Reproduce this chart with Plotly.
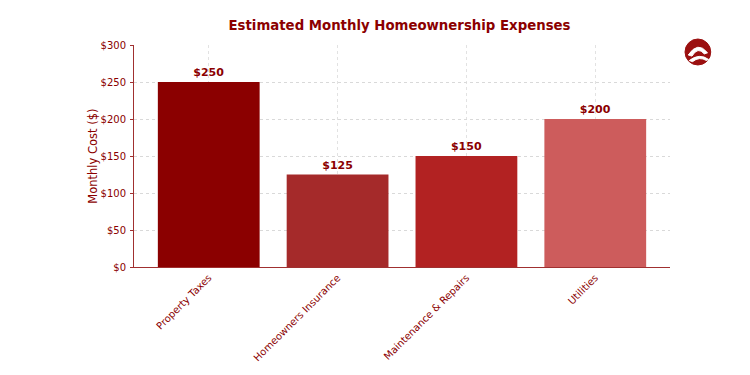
import plotly.graph_objects as go

categories = ["Property Taxes", "Homeowners Insurance", "Maintenance & Repairs", "Utilities"]
costs = [250, 125, 150, 200]
bar_colors = ["#8B0000", "#A52A2A", "#B22222", "#CD5C5C"]
label_texts = ["$250", "$125", "$150", "$200"]
y_ticks = [0, 50, 100, 150, 200, 250, 300]
y_tick_labels = ["$0", "$50", "$100", "$150", "$200", "$250", "$300"]

DARK = "#8B0000"
FONT = "DejaVu Sans"

fig = go.Figure()
fig.add_trace(go.Bar(
    x=categories, y=costs,
    marker=dict(color=bar_colors, line=dict(width=0)),
    text=label_texts, textposition="outside",
    textfont=dict(family=FONT, size=11, color=DARK, weight="bold"),
    cliponaxis=False,
))

fig.update_layout(
    width=750, height=375,
    margin=dict(l=126, r=88, t=37, b=116, autoexpand=False),
    paper_bgcolor="white", plot_bgcolor="white",
    bargap=0.21,
    showlegend=False,
    font=dict(family=FONT, color=DARK, size=11),
    title=dict(text="<b>Estimated Monthly Homeownership Expenses</b>",
               x=0.522, xanchor="center", y=0.955, yanchor="middle",
               font=dict(family=FONT, size=13.3, color=DARK)),
    xaxis=dict(
        range=[-0.58, 3.58],
        tickangle=-45,
        tickfont=dict(family=FONT, size=10, color=DARK),
        showgrid=True, gridcolor="#e2e2e2", griddash="dot", gridwidth=1,
        showline=True, linecolor="#a03030", linewidth=1,
        ticks="",
        zeroline=False,
    ),
    yaxis=dict(
        range=[0, 300],
        tickvals=y_ticks, ticktext=y_tick_labels,
        tickfont=dict(family=FONT, size=10, color=DARK),
        ticklabelstandoff=2,
        showgrid=True, gridcolor="#d9d9d9", griddash="dot", gridwidth=1,
        showline=True, linecolor="#a03030", linewidth=1,
        ticks="outside", ticklen=3, tickcolor="#a03030",
        zeroline=False,
    ),
)

fig.add_annotation(text="Monthly Cost ($)", xref="paper", yref="paper",
                   x=-0.077, y=0.5, xanchor="center", yanchor="middle",
                   textangle=-90, showarrow=False,
                   font=dict(family=FONT, size=11.5, color=DARK))

# small logo approximation in top-right
fig.add_shape(type="circle", xref="paper", yref="paper",
              x0=1.028, x1=1.076, y0=0.91, y1=1.027,
              fillcolor="#9B1010", line=dict(color="#9B1010", width=1))
fig.add_shape(type="path", xref="paper", yref="paper",
              path="M 1.034 0.955 Q 1.052 1.02 1.07 0.965 L 1.064 0.96 Q 1.052 0.995 1.041 0.95 Z",
              fillcolor="white", line=dict(color="white", width=1))
fig.add_shape(type="path", xref="paper", yref="paper",
              path="M 1.036 0.93 Q 1.055 0.965 1.072 0.935 L 1.068 0.93 Q 1.055 0.95 1.042 0.925 Z",
              fillcolor="white", line=dict(color="white", width=1))

fig.write_html("out.html")
